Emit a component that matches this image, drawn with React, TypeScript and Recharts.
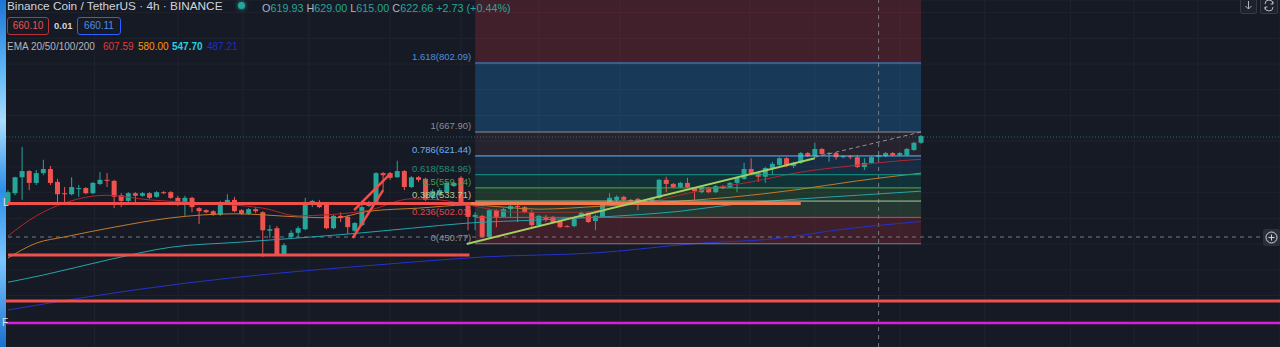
import React from 'react';
import {
  ComposedChart,
  Bar,
  Line,
  XAxis,
  YAxis,
  CartesianGrid,
  ReferenceLine,
  ReferenceArea,
} from 'recharts';

// ---------- DATA (BNB/USDT 4h candles) ----------
const opens = [
  526, 549, 580, 592, 569, 588, 596, 571, 549, 547, 557, 559, 549, 567, 575, 573, 545, 534, 549, 544,
  549, 542, 551, 551, 540, 530, 540, 520, 516, 514, 507, 530, 536, 516, 509, 518, 512, 476, 481, 429,
  464, 472, 479, 530, 532, 528, 481, 505, 503, 476, 487, 524, 530, 588, 588, 580, 592, 561, 580, 577,
  542, 545, 551, 563, 579, 526, 503, 505, 464, 516, 503, 518, 524, 522, 512, 487, 503, 503, 495, 485,
  485, 503, 511, 495, 503, 532, 536, 542, 536, 538, 534, 532, 540, 575, 567, 561, 569, 559, 551, 559,
  551, 563, 561, 569, 577, 596, 588, 581, 598, 604, 617, 602, 608, 627, 621, 635, 625, 627, 619, 621,
  619, 600, 608, 619.93, 621, 627, 623, 623, 633, 647,
];
const highs = [
  555, 581, 639, 594, 594, 614, 602, 577, 561, 580, 565, 561, 571, 590, 588, 575, 549, 551, 551, 551,
  551, 553, 553, 553, 544, 544, 542, 522, 518, 516, 534, 547, 542, 518, 520, 522, 514, 487, 485, 452,
  477, 485, 540, 536, 536, 528, 507, 512, 507, 493, 526, 534, 590, 590, 590, 612, 594, 582, 582, 579,
  557, 559, 571, 571, 582, 530, 512, 507, 518, 518, 520, 526, 526, 524, 516, 507, 507, 505, 497, 487,
  501, 514, 512, 507, 532, 549, 545, 544, 538, 540, 536, 542, 577, 581, 569, 571, 579, 561, 563, 561,
  565, 565, 571, 581, 608, 617, 590, 600, 610, 619, 619, 610, 629, 629, 647, 637, 629, 629, 623, 623,
  623, 617, 621, 629, 629, 629, 629, 637, 649, 662,
];
const lows = [
  524, 545, 536, 555, 565, 584, 565, 532, 532, 545, 542, 547, 547, 565, 561, 520, 522, 532, 532, 542,
  538, 540, 547, 538, 524, 505, 512, 489, 510, 505, 505, 528, 512, 507, 507, 510, 425, 462, 427, 427,
  462, 462, 477, 522, 520, 479, 479, 493, 470, 474, 485, 522, 528, 555, 575, 579, 555, 559, 571, 534,
  538, 544, 549, 561, 528, 477, 477, 462, 462, 483, 501, 503, 493, 510, 483, 485, 493, 491, 481, 483,
  483, 501, 491, 477, 501, 530, 532, 534, 532, 516, 528, 530, 538, 551, 559, 559, 559, 536, 549, 549,
  549, 557, 559, 551, 575, 584, 571, 569, 584, 602, 600, 598, 606, 619, 619, 623, 610, 614, 617, 615,
  598, 594, 606, 615, 619, 621, 621, 621, 631, 645,
];
const closes = [
  551, 580, 592, 569, 588, 596, 569, 547, 547, 561, 559, 549, 569, 575, 573, 542, 534, 549, 544, 549,
  540, 551, 549, 540, 528, 540, 522, 514, 512, 507, 530, 536, 514, 509, 518, 514, 477, 479, 429, 448,
  472, 481, 530, 534, 522, 481, 505, 501, 483, 491, 522, 530, 588, 584, 579, 592, 561, 580, 575, 536,
  553, 555, 569, 569, 530, 503, 507, 464, 516, 503, 518, 524, 522, 512, 487, 505, 499, 493, 483, 484,
  499, 511, 493, 505, 530, 540, 542, 536, 534, 532, 530, 540, 575, 567, 561, 569, 561, 553, 561, 551,
  563, 559, 569, 579, 596, 588, 581, 598, 606, 617, 604, 608, 627, 621, 635, 625, 627, 619, 621, 619,
  600, 608, 619, 622.66, 627, 623, 627, 635, 647, 660,
];

// EMA readings: [candle index, price]
const ema20Points: [number, number][] = [
  [0, 466], [4, 505], [8, 530], [14, 545], [20, 536], [27, 530], [36, 520], [41, 505], [45, 507],
  [51, 516], [57, 538], [61, 536], [65, 526], [72, 512], [81, 512], [86, 522], [92, 536], [98, 555],
  [105, 571], [112, 590], [119, 602], [126, 612], [129, 615],
];
const ema50Points: [number, number][] = [
  [0, 423], [4, 452], [8, 464], [15, 483], [23, 501], [32, 509], [41, 503], [46, 501], [51, 514],
  [58, 520], [65, 526], [75, 518], [84, 524], [93, 532], [102, 541], [111, 555], [120, 573], [129, 588],
];
const ema100Points: [number, number][] = [
  [0, 376], [5, 390], [14, 419], [23, 444], [33, 454], [41, 462], [50, 472], [57, 481], [65, 491],
  [75, 497], [84, 503], [95, 514], [103, 528], [112, 538], [120, 545], [129, 553],
];
const ema200Points: [number, number][] = [
  [0, 322], [12, 349], [25, 374], [37, 392], [47, 404], [57, 415], [67, 425], [83, 433], [98, 452],
  [108, 460], [118, 479], [129, 494],
];

// Fibonacci retracement (drawn from candle 66 to 129)
const fibRatios = ['1.618', '1', '0.786', '0.618', '0.5', '0.382', '0.236', '0'];
const fibPrices = [802.09, 667.9, 621.44, 584.96, 559.34, 533.71, 502.01, 450.77];
const fibLabels = ['802.09', '667.90', '621.44', '584.96', '559.34', '533.71', '502.01', '450.77'];
const fibLineColors = ['#4a8fdc', '#8d9099', '#64b5f6', '#129c84', '#4caf50', '#a8c8a0', '#f23645', '#787b86'];
const fibTextColors = ['#4d8fd8', '#8b8e97', '#6aaef0', '#1f8f77', '#4a9e4e', '#b9c48c', '#e0474f', '#8b8e97'];
const fibZoneColors = ['#f23645', '#2196f3', '#a06070', '#2196f3', '#00897b', '#4caf50', '#66bb6a', '#f23645'];
const fibZoneOpacity = [0.2, 0.25, 0.12, 0.15, 0.22, 0.2, 0.18, 0.18];
const fibStart = 66;
const fibEnd = 129;
const fibTop = 924;

// Price / time axis
const priceDomain: [number, number] = [250.1, 924.5];
const timeDomain: [number, number] = [-1.13, 179.71];
const priceGridTicks = [300, 350, 400, 450, 500, 550, 600, 650, 700, 750, 800, 850, 900];
const timeGridTicks = [12.2, 24, 33.2, 42.5, 54, 64, 75, 86.5, 104.8, 114, 126, 138, 150.1, 159.1, 168.1];

// Drawn lines (price levels and segments)
const supportTop = 529;
const supportBottom = 428.9;
const redFull = 339.5;
const magentaFull = 296.7;
const currentPrice = 658.2;
const crosshairPrice = 463.9;
const crosshairIndex = 123;
const diagA: [number, number, number, number] = [48.9, 516, 54.1, 588];
const diagB: [number, number, number, number] = [48.7, 462, 53.0, 555];
const greenTrend: [number, number, number, number] = [64.8, 450.3, 114, 617];
const grayTrend: [number, number, number, number] = [114, 619, 129, 668];

// ---------- BUILD TABLE ----------
type Row = { [k: string]: any };
const rows: Row[] = opens.map((o, i) => ({
  i,
  o,
  h: highs[i],
  l: lows[i],
  c: closes[i],
  range: [lows[i], highs[i]],
}));
const putEma = (pts: [number, number][], key: string) => {
  pts.forEach(([idx, v]) => {
    if (rows[idx]) rows[idx][key] = v;
  });
};
putEma(ema20Points, 'ema20');
putEma(ema50Points, 'ema50');
putEma(ema100Points, 'ema100');
putEma(ema200Points, 'ema200');

const Candle = (props: any) => {
  const { x, y, width, height, payload } = props;
  if (!payload || payload.o == null || x == null || y == null) return <g />;
  const top = Math.min(y, y + height);
  const bottom = Math.max(y, y + height);
  const span = payload.h - payload.l;
  const ratio = span > 0 ? (bottom - top) / span : 0;
  const yO = top + (payload.h - payload.o) * ratio;
  const yC = top + (payload.h - payload.c) * ratio;
  const up = payload.c >= payload.o;
  const color = up ? '#26a69a' : '#ef5350';
  const cx = x + width / 2;
  const bTop = Math.min(yO, yC);
  const bH = Math.max(1, Math.abs(yO - yC));
  return (
    <g>
      <line x1={cx} x2={cx} y1={top} y2={bottom} stroke={color} strokeWidth={1} />
      <rect x={x} y={bTop} width={width} height={bH} fill={color} />
    </g>
  );
};

const seg = (s: [number, number, number, number]) => [
  { x: s[0], y: s[1] },
  { x: s[2], y: s[3] },
];

export default function App() {
  const zoneBounds = [fibTop, ...fibPrices];
  return (
    <div
      style={{
        position: 'absolute',
        left: 0,
        top: 0,
        width: 1280,
        height: 347,
        background: '#161a25',
        overflow: 'hidden',
        fontFamily: '"Liberation Sans", Arial, sans-serif',
      }}
    >
      <ComposedChart
        width={1280}
        height={347}
        data={rows}
        margin={{ top: 0, right: 0, bottom: 0, left: 0 }}
      >
        <CartesianGrid stroke="#1f232e" strokeWidth={1} />
        <XAxis
          dataKey="i"
          type="number"
          domain={timeDomain}
          allowDataOverflow
          ticks={timeGridTicks}
          hide
        />
        <YAxis type="number" domain={priceDomain} allowDataOverflow ticks={priceGridTicks} hide />

        {fibZoneColors.map((col, k) => (
          <ReferenceArea
            key={'z' + k}
            x1={fibStart}
            x2={fibEnd}
            y1={zoneBounds[k + 1]}
            y2={zoneBounds[k]}
            fill={col}
            fillOpacity={fibZoneOpacity[k]}
            stroke="none"
            ifOverflow="visible"
          />
        ))}

        <ReferenceLine y={currentPrice} stroke="#26a69a" strokeOpacity={0.6} strokeDasharray="1 2" />
        <ReferenceLine y={crosshairPrice} stroke="#787b86" strokeDasharray="4 4" />
        <ReferenceLine x={crosshairIndex} stroke="#787b86" strokeDasharray="4 4" />

        <Bar dataKey="range" barSize={5} shape={Candle} isAnimationActive={false} />

        <Line type="monotone" dataKey="ema200" stroke="#2433c8" strokeWidth={1} dot={false} connectNulls isAnimationActive={false} />
        <Line type="monotone" dataKey="ema100" stroke="#22a5ad" strokeWidth={1} dot={false} connectNulls isAnimationActive={false} />
        <Line type="monotone" dataKey="ema50" stroke="#c47a2c" strokeWidth={1} dot={false} connectNulls isAnimationActive={false} />
        <Line type="monotone" dataKey="ema20" stroke="#b0282f" strokeWidth={1} dot={false} connectNulls isAnimationActive={false} />

        {fibPrices.map((p, k) => (
          <ReferenceLine
            key={'f' + k}
            segment={[{ x: fibStart, y: p }, { x: fibEnd, y: p }]}
            stroke={fibLineColors[k]}
            strokeWidth={1}
            label={{
              value: `${fibRatios[k]}(${fibLabels[k]})`,
              position: 'left',
              offset: 4,
              dy: -6,
              fill: fibTextColors[k],
              fontSize: 9.5,
            }}
          />
        ))}

        <ReferenceLine segment={[{ x: 0, y: supportTop }, { x: fibStart - 0.7, y: supportTop }]} stroke="#f0504c" strokeWidth={3} />
        <ReferenceLine segment={[{ x: fibStart - 0.7, y: supportTop }, { x: 112, y: supportTop }]} stroke="#f27a4e" strokeWidth={3} />
        <ReferenceLine segment={[{ x: 0, y: supportBottom }, { x: 65.2, y: supportBottom }]} stroke="#f0504c" strokeWidth={3} />
        <ReferenceLine segment={seg(diagA)} stroke="#f0504c" strokeWidth={2.5} />
        <ReferenceLine segment={seg(diagB)} stroke="#f0504c" strokeWidth={2.5} />
        <ReferenceLine segment={seg(greenTrend)} stroke="#a3d05e" strokeWidth={2} />
        <ReferenceLine segment={seg(grayTrend)} stroke="#8f929b" strokeWidth={1} strokeDasharray="4 3" />
        <ReferenceLine y={redFull} stroke="#f0514f" strokeWidth={3} />
        <ReferenceLine y={magentaFull} stroke="#d81fd8" strokeWidth={2.5} />
      </ComposedChart>

      {/* left desktop strip */}
      <div
        style={{
          position: 'absolute',
          left: 0,
          top: 0,
          width: 6,
          height: 347,
          background: 'linear-gradient(180deg,#1c74d6 0%,#5fb6f5 20%,#a9dcff 35%,#2a8ee8 55%,#7cc6ff 75%,#1b6fd0 100%)',
        }}
      />
      <div style={{ position: 'absolute', left: 3, top: 197, color: '#e0e0e0', fontSize: 10 }}>L</div>
      <div style={{ position: 'absolute', left: 2, top: 317, color: '#e0e0e0', fontSize: 10 }}>F</div>

      {/* legend header */}
      <div
        style={{
          position: 'absolute',
          left: 7,
          top: 0,
          fontSize: 11.8,
          lineHeight: '13px',
          color: '#d1d4dc',
          whiteSpace: 'nowrap',
        }}
      >
        Binance Coin / TetherUS · 4h · BINANCE
      </div>
      <div
        style={{
          position: 'absolute',
          left: 238,
          top: 2,
          width: 7,
          height: 7,
          borderRadius: 4,
          background: '#26a69a',
          boxShadow: '0 0 4px #26a69a',
        }}
      />
      <div
        style={{
          position: 'absolute',
          left: 262,
          top: 1,
          fontSize: 10.8,
          lineHeight: '14px',
          whiteSpace: 'nowrap',
          color: '#26a69a',
        }}
      >
        <span style={{ color: '#b2b5be' }}>O</span>619.93 <span style={{ color: '#b2b5be' }}>H</span>629.00{' '}
        <span style={{ color: '#b2b5be' }}>L</span>615.00 <span style={{ color: '#b2b5be' }}>C</span>622.66 +2.73 (+0.44%)
      </div>

      <div
        style={{
          position: 'absolute',
          left: 7,
          top: 17,
          width: 40,
          height: 16,
          border: '1px solid #b8333c',
          borderRadius: 3,
          color: '#ef5350',
          fontSize: 10,
          lineHeight: '16px',
          textAlign: 'center',
        }}
      >
        660.10
      </div>
      <div style={{ position: 'absolute', left: 54, top: 20, color: '#d1d4dc', fontSize: 9.5, fontWeight: 'bold' }}>0.01</div>
      <div
        style={{
          position: 'absolute',
          left: 77,
          top: 17,
          width: 42,
          height: 16,
          border: '1px solid #2962ff',
          borderRadius: 3,
          color: '#4a8fe8',
          fontSize: 10,
          lineHeight: '16px',
          textAlign: 'center',
        }}
      >
        660.11
      </div>

      <div style={{ position: 'absolute', left: 7, top: 40, fontSize: 10, lineHeight: '14px', whiteSpace: 'nowrap' }}>
        <span style={{ color: '#b2b5be' }}>EMA 20/50/100/200</span>
      </div>
      <div style={{ position: 'absolute', left: 103, top: 40, fontSize: 10, lineHeight: '14px', color: '#e53935' }}>607.59</div>
      <div style={{ position: 'absolute', left: 138, top: 40, fontSize: 10, lineHeight: '14px', color: '#ff9800' }}>580.00</div>
      <div style={{ position: 'absolute', left: 172, top: 40, fontSize: 10, lineHeight: '14px', color: '#26d0e0', fontWeight: 'bold' }}>547.70</div>
      <div style={{ position: 'absolute', left: 207, top: 40, fontSize: 10, lineHeight: '14px', color: '#1e2fc0' }}>487.21</div>

      {/* top-right buttons */}
      <div
        style={{
          position: 'absolute',
          left: 1240,
          top: -3,
          width: 15,
          height: 15,
          border: '1px solid #363a45',
          borderRadius: 2,
          background: '#1e222d',
        }}
      >
        <svg width="15" height="15">
          <path d="M7.5 3 L7.5 11 M4.5 8 L7.5 11 L10.5 8" stroke="#b2b5be" strokeWidth="1" fill="none" />
        </svg>
      </div>
      <div
        style={{
          position: 'absolute',
          left: 1260,
          top: -3,
          width: 16,
          height: 15,
          border: '1px solid #363a45',
          borderRadius: 2,
          background: '#1e222d',
        }}
      >
        <svg width="16" height="15">
          <path d="M4 6 A4 4 0 0 1 12 6 M12 9 A4 4 0 0 1 4 9" stroke="#b2b5be" strokeWidth="1" fill="none" />
          <path d="M12 3.5 L12 6 L9.5 6 M4 11.5 L4 9 L6.5 9" stroke="#b2b5be" strokeWidth="1" fill="none" />
        </svg>
      </div>

      {/* crosshair plus button */}
      <div
        style={{
          position: 'absolute',
          left: 1263,
          top: 229,
          width: 17,
          height: 17,
          background: '#2a2e39',
          borderRadius: 2,
        }}
      >
        <svg width="17" height="17">
          <circle cx="8.5" cy="8.5" r="5.5" stroke="#d1d4dc" strokeWidth="1" fill="none" />
          <path d="M8.5 5.5 L8.5 11.5 M5.5 8.5 L11.5 8.5" stroke="#d1d4dc" strokeWidth="1" />
        </svg>
      </div>
    </div>
  );
}
